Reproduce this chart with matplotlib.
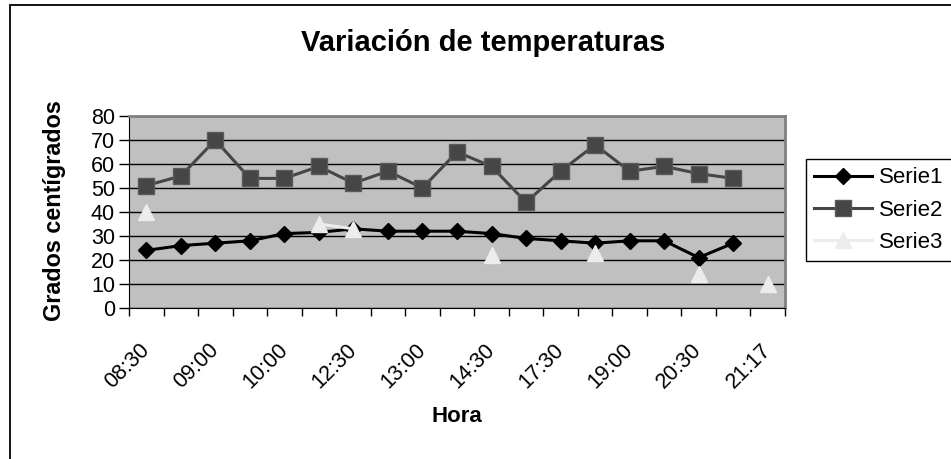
import numpy as np
import matplotlib.pyplot as plt
from matplotlib.patches import Rectangle

plt.rcParams['font.family'] = ['Liberation Sans', 'DejaVu Sans']

# Datos
etiquetas = ['08:30', '09:00', '10:00', '12:30', '13:00',
             '14:30', '17:30', '19:00', '20:30', '21:17']
n_cat = 19
serie1 = [24, 26, 27, 28, 31, 31.5, 33, 32, 32, 32, 31, 29, 28, 27, 28, 28, 21, 27]
serie2 = [51, 55, 70, 54, 54, 59, 52, 57, 50, 65, 59, 44, 57, 68, 57, 59, 56, 54]
nan = np.nan
serie3 = [40, nan, nan, nan, nan, 35, 33, nan, nan, nan, 22, nan, nan, 23, nan, nan, 14, nan, 10]

fig = plt.figure(figsize=(9.51, 4.59), dpi=100)
W, H = 951, 459

# marco del grafico
fig.patches.append(Rectangle((9.5 / W, -0.2), 1.2, 1 - 5.5 / H + 0.2, transform=fig.transFigure,
                             fill=False, edgecolor='black', linewidth=1.3))

ax = fig.add_axes([129 / W, 1 - 308 / H, (785 - 129) / W, (308 - 116) / H])
ax.set_facecolor('#c0c0c0')

x1 = np.arange(len(serie1))
x2 = np.arange(len(serie2))
x3 = np.arange(len(serie3))
ax.plot(x1, serie1, color='black', lw=2.2, marker='D', ms=8.5, mfc='black', mec='black', label='Serie1', zorder=4)
ax.plot(x2, serie2, color='#464646', lw=2.2, marker='s', ms=11, mfc='#464646', mec='#5a5a5a', label='Serie2', zorder=3)
ax.plot(x3, serie3, color='#ececec', lw=2.2, marker='^', ms=12, mfc='#ececec', mec='#ececec', label='Serie3', zorder=5)

ax.set_xlim(-0.5, n_cat - 0.5)
ax.set_ylim(0, 80)
ax.set_yticks(np.arange(0, 81, 10))
ax.yaxis.grid(True, color='black', lw=1)
ax.set_axisbelow(True)

ax.set_xticks(np.arange(-0.5, n_cat, 1))
ax.set_xticklabels([])
ax.set_xticks(np.arange(0, n_cat, 2), minor=True)
ax.set_xticklabels(etiquetas, minor=True, rotation=45, ha='right', va='center',
                   rotation_mode='anchor', fontsize=15.5)
ax.tick_params(axis='x', which='minor', length=0, pad=28)
ax.tick_params(axis='x', which='major', length=5.5, width=1, color='black', direction='out')
ax.tick_params(axis='y', length=7, width=1, labelsize=15.5, pad=3)

for s in ['top', 'right']:
    ax.spines[s].set_color('#808080')
    ax.spines[s].set_linewidth(2)
ax.spines['left'].set_color('black')
ax.spines['bottom'].set_color('black')

fig.text(483 / W, 1 - 43 / H, 'Variación de temperaturas', ha='center', va='center',
         fontsize=21, fontweight='bold')
fig.text(457 / W, 1 - 417 / H, 'Hora', ha='center', va='center', fontsize=16, fontweight='bold')
fig.text(55 / W, 1 - 211 / H, 'Grados centígrados', ha='center', va='center', rotation=90,
         fontsize=16.8, fontweight='bold')

leg = ax.legend(loc='upper left', bbox_to_anchor=(806 / W, 1 - 159 / H), bbox_transform=fig.transFigure,
                borderaxespad=0, fancybox=False, edgecolor='black', framealpha=1, fontsize=16,
                handlelength=2.6, handletextpad=0.3, labelspacing=0.5, borderpad=0.38)
leg.get_frame().set_linewidth(1)

plt.savefig('out.png')
